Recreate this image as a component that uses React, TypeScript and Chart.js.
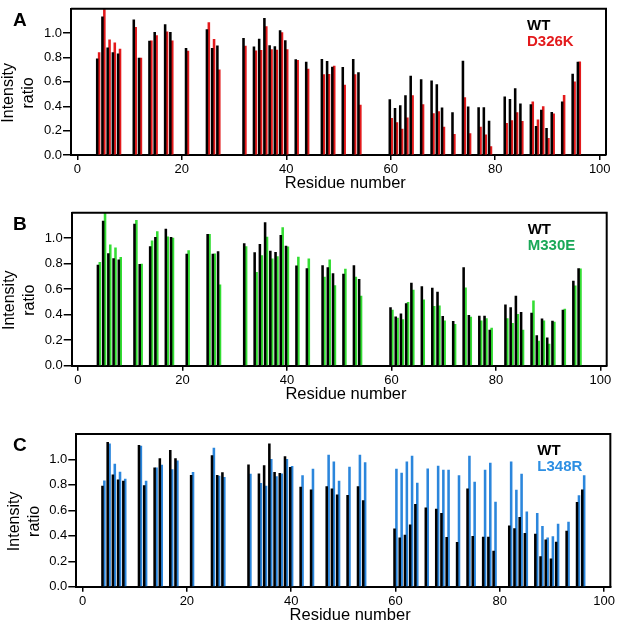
import { useEffect, useRef } from 'react';
import { Chart, registerables } from 'chart.js';

Chart.register(...registerables);

// residues that have a peak in both spectra
const RESIDUES = [
  4, 5, 6, 7, 8, 11, 12, 14, 15, 17, 18, 21, 25, 26, 27, 32, 34, 35, 36, 37,
  38, 39, 40, 42, 44, 47, 48, 49, 51, 53, 54, 60, 61, 62, 63, 64, 66, 68, 69, 70,
  72, 74, 75, 77, 78, 79, 82, 83, 84, 85, 87, 88, 89, 90, 91, 93, 95, 96,
];

const WT = [
  0.79, 1.135, 0.88, 0.84, 0.83, 1.11, 0.795, 0.935, 1.007, 1.071, 1.006, 0.875, 1.03, 0.875, 0.896, 0.957, 0.887, 0.951, 1.122, 0.899,
  0.89, 1.022, 0.939, 0.783, 0.762, 0.786, 0.769, 0.722, 0.719, 0.786, 0.677, 0.455, 0.384, 0.406, 0.487, 0.648, 0.62, 0.609, 0.577, 0.387,
  0.348, 0.77, 0.395, 0.389, 0.389, 0.279, 0.478, 0.456, 0.546, 0.419, 0.413, 0.236, 0.368, 0.219, 0.35, 0.437, 0.664, 0.762,
];

const D326K = [
  0.84, 1.22, 0.945, 0.92, 0.87, 1.047, 0.795, 0.937, 0.98, 1.01, 0.937, 0.853, 1.086, 0.95, 0.70, 0.895, 0.856, 0.859, 1.055, 0.866,
  0.861, 1.005, 0.866, 0.777, 0.706, 0.661, 0.662, 0.73, 0.573, 0.66, 0.41, 0.30, 0.267, 0.212, 0.306, 0.487, 0.414, 0.34, 0.356, 0.23,
  0.17, 0.471, 0.175, 0.23, 0.165, 0.07, 0.26, 0.283, 0.348, 0.277, 0.437, 0.288, 0.398, 0.136, 0.338, 0.49, 0.60, 0.764,
];

const M330E = [
  0.81, 1.22, 0.948, 0.924, 0.85, 1.141, 0.798, 0.979, 1.052, 1.01, 1.0, 0.903, 1.03, 0.877, 0.634, 0.935, 0.733, 0.864, 1.008, 0.838,
  0.856, 1.084, 0.932, 0.851, 0.838, 0.696, 0.83, 0.628, 0.757, 0.696, 0.547, 0.437, 0.374, 0.361, 0.497, 0.594, 0.516, 0.466, 0.469, 0.351,
  0.325, 0.61, 0.382, 0.351, 0.369, 0.296, 0.369, 0.332, 0.403, 0.28, 0.508, 0.194, 0.351, 0.17, 0.343, 0.445, 0.626, 0.76,
];

const L348R = [
  0.832, 1.123, 0.963, 0.90, 0.846, 1.105, 0.83, 0.935, 0.955, 0.921, 0.99, 0.898, 1.089, 0.87, 0.859, 0.885, 0.812, 0.79, 1.0, 0.866,
  0.887, 1.0, 0.945, 0.874, 0.924, 1.034, 0.982, 0.83, 0.94, 1.034, 0.976, 0.924, 0.893, 0.982, 1.026, 0.814, 0.927, 0.948, 0.916, 0.916,
  0.874, 1.026, 0.822, 0.916, 0.971, 0.665, 0.982, 0.759, 0.885, 0.589, 0.576, 0.474, 0.385, 0.393, 0.492, 0.508, 0.717, 0.874,
];

const X_TICKS = [0, 20, 40, 60, 80, 100];
const Y_TICKS = [0, 0.2, 0.4, 0.6, 0.8, 1.0];

const FONT = 'Liberation Sans, Arial, sans-serif';
const W = 617;

type Area = { left: number; right: number; top: number; bottom: number };

type PanelProps = {
  letter: string;
  mutant: string;
  values: number[];
  barColor: string;
  textColor: string;
  top: number;
  height: number;
  area: Area;
  legendDx: number;
};

// frame, panel letter, legend and axis titles
const panelText = {
  id: 'panelText',
  afterDraw(chart: any, _args: any, o: any) {
    const { ctx, chartArea: a } = chart;
    const x = chart.scales.x;
    ctx.save();
    ctx.strokeStyle = '#000';
    ctx.lineWidth = 2;
    ctx.beginPath();
    ctx.moveTo(a.left, a.top);
    ctx.lineTo(a.right, a.top);
    ctx.lineTo(a.right, a.bottom);
    ctx.stroke();

    ctx.textBaseline = 'alphabetic';
    ctx.textAlign = 'left';
    ctx.fillStyle = '#000';
    ctx.font = `bold 19px ${FONT}`;
    ctx.fillText(o.letter, 13, a.top + 17);

    ctx.font = `bold 15px ${FONT}`;
    ctx.fillText('WT', a.right + o.legendDx, a.top + 21);
    ctx.fillStyle = o.textColor;
    ctx.fillText(o.mutant, a.right + o.legendDx, a.top + 37);

    ctx.fillStyle = '#000';
    ctx.textAlign = 'center';
    ctx.textBaseline = 'middle';
    ctx.font = `16.5px ${FONT}`;
    ctx.fillText('Residue number', x.getPixelForValue(51.3), a.bottom + 28.5);

    ctx.font = `16px ${FONT}`;
    const cy = (a.top + a.bottom) / 2 + 11;
    ctx.translate(a.left - 62, cy);
    ctx.rotate(-Math.PI / 2);
    ctx.fillText('Intensity', 0, 0);
    ctx.restore();
    ctx.save();
    ctx.fillStyle = '#000';
    ctx.textAlign = 'center';
    ctx.textBaseline = 'middle';
    ctx.font = `16px ${FONT}`;
    ctx.translate(a.left - 42, cy);
    ctx.rotate(-Math.PI / 2);
    ctx.fillText('ratio', 0, 0);
    ctx.restore();
  },
};

function Panel(p: PanelProps) {
  const canvasRef = useRef<HTMLCanvasElement>(null);

  useEffect(() => {
    if (!canvasRef.current) return;
    Chart.getChart(canvasRef.current)?.destroy();

    const axisH = p.height - p.area.bottom;
    const chart = new Chart(canvasRef.current, {
      type: 'bar',
      data: {
        datasets: [
          {
            label: 'WT',
            data: RESIDUES.map((r, i) => ({ x: r, y: WT[i] })),
            backgroundColor: '#000',
            borderWidth: 0,
            barThickness: 1.9,
          },
          {
            label: p.mutant,
            data: RESIDUES.map((r, i) => ({ x: r, y: p.values[i] })),
            backgroundColor: p.barColor,
            borderWidth: 0,
            barThickness: 1.9,
          },
        ],
      },
      plugins: [panelText],
      options: {
        responsive: false,
        animation: false,
        events: [],
        layout: {
          padding: { left: 0, top: p.area.top, right: W - p.area.right, bottom: 0 },
        },
        scales: {
          x: {
            type: 'linear',
            min: -1.2,
            max: 101.2,
            offset: false,
            afterBuildTicks: (s: any) => { s.ticks = X_TICKS.map(v => ({ value: v })); },
            afterFit: (s: any) => { s.height = axisH; },
            grid: { display: true, drawOnChartArea: false, offset: false, tickLength: 5, color: '#000', lineWidth: 1.5 },
            border: { display: true, color: '#000', width: 2 },
            ticks: { color: '#000', padding: 2, maxRotation: 0, font: { family: FONT, size: 13 } },
          },
          y: {
            min: 0,
            max: 1.2,
            afterBuildTicks: (s: any) => { s.ticks = Y_TICKS.map(v => ({ value: v })); },
            afterFit: (s: any) => { s.width = p.area.left; },
            grid: { display: true, drawOnChartArea: false, tickLength: 8, color: '#000', lineWidth: 1.5 },
            border: { display: true, color: '#000', width: 2 },
            ticks: {
              color: '#000',
              padding: 1,
              font: { family: FONT, size: 13 },
              callback: (v: any) => Number(v).toFixed(1),
            },
          },
        },
        plugins: {
          legend: { display: false },
          tooltip: { enabled: false },
          panelText: {
            letter: p.letter,
            mutant: p.mutant,
            textColor: p.textColor,
            legendDx: p.legendDx,
          },
        } as any,
      },
    });

    return () => { chart.destroy(); };
  }, []);

  return (
    <div style={{ position: 'absolute', left: 0, top: p.top, width: W, height: p.height }}>
      <canvas ref={canvasRef} width={W} height={p.height} style={{ display: 'block' }} />
    </div>
  );
}

export default function App() {
  return (
    <div style={{ position: 'absolute', left: 0, top: 0, width: W, height: 628, background: '#fff' }}>
      <Panel
        letter="A" mutant="D326K" values={D326K} barColor="#e31a1c" textColor="#e31a1c"
        top={0} height={200} area={{ left: 71, right: 606, top: 3, bottom: 155 }} legendDx={-79}
      />
      <Panel
        letter="B" mutant="M330E" values={M330E} barColor="#33dd33" textColor="#1aa858"
        top={200} height={210} area={{ left: 71.7, right: 606.7, top: 12.7, bottom: 165.7 }} legendDx={-79}
      />
      <Panel
        letter="C" mutant="L348R" values={L348R} barColor="#2b86dc" textColor="#2d8fe3"
        top={410} height={218} area={{ left: 76.3, right: 610.7, top: 24, bottom: 176.7 }} legendDx={-73}
      />
    </div>
  );
}
